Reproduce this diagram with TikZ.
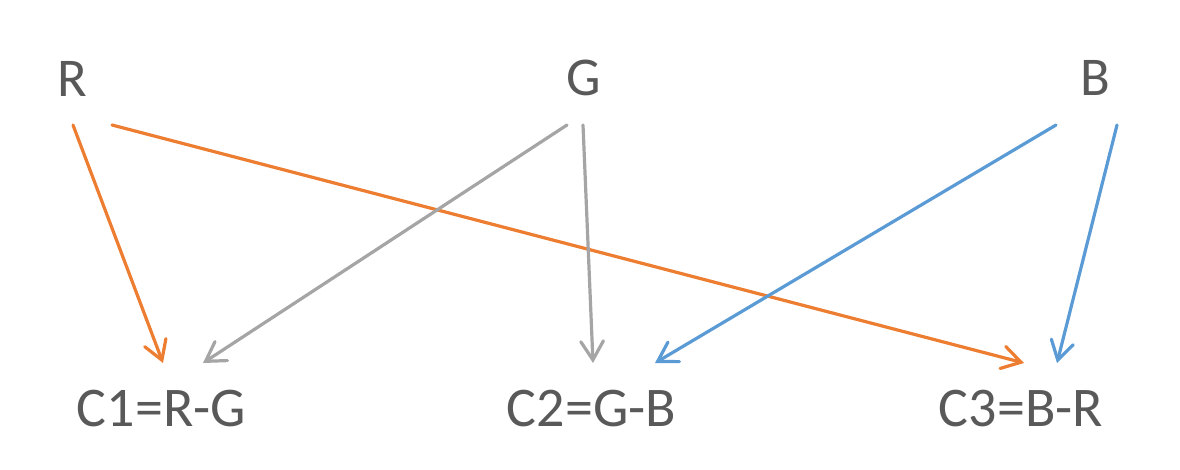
\documentclass[tikz,border=0pt]{standalone}
\usepackage{fontspec}
\setmainfont{Carlito}
\usetikzlibrary{arrows.meta}
\definecolor{txt}{HTML}{595959}
\definecolor{cor}{HTML}{ED7D31}
\definecolor{cgr}{HTML}{A5A5A5}
\definecolor{cbl}{HTML}{5B9BD5}
\tikzset{
  lbl/.style={anchor=base, text=txt, inner sep=0pt, font=\fontsize{42}{50}\selectfont},
  toplbl/.style={lbl, font=\fontsize{41}{49}\selectfont},
  conn/.style={line width=2.4pt, -{Straight Barb[length=14pt,width=17pt,line cap=round]}, line cap=round},
}
\begin{document}
\begin{tikzpicture}[x=0.75pt,y=-0.75pt]
\useasboundingbox (0,0) rectangle (1180,470);
\node[toplbl] (R) at (72.5,97) {R};
\node[toplbl] (G) at (583.5,96) {G};
\node[toplbl] (B) at (1095,96) {B};
\node[lbl] (C1) at (161.5,426) {C1=R-G};
\node[lbl] (C2) at (591.5,426) {C2=G-B};
\node[lbl] (C3) at (1021,426) {C3=B-R};
% start points
\coordinate (r1) at (73,125);
\coordinate (r2) at (112,125);
\coordinate (g1) at (567,125);
\coordinate (g2) at (583,125);
\coordinate (b1) at (1056,125);
\coordinate (b2) at (1117,125);
% end points
\coordinate (c1a) at (163,363);
\coordinate (c1b) at (203,363);
\coordinate (c2a) at (593,363);
\coordinate (c2b) at (655,363);
\coordinate (c3a) at (1024,363);
\coordinate (c3b) at (1057,363);
\draw[conn, cor] (r1) -- (c1a);
\draw[conn, cor] (r2) -- (c3a);
\draw[conn, cgr] (g1) -- (c1b);
\draw[conn, cgr] (g2) -- (c2a);
\draw[conn, cbl] (b1) -- (c2b);
\draw[conn, cbl] (b2) -- (c3b);
\end{tikzpicture}
\end{document}
